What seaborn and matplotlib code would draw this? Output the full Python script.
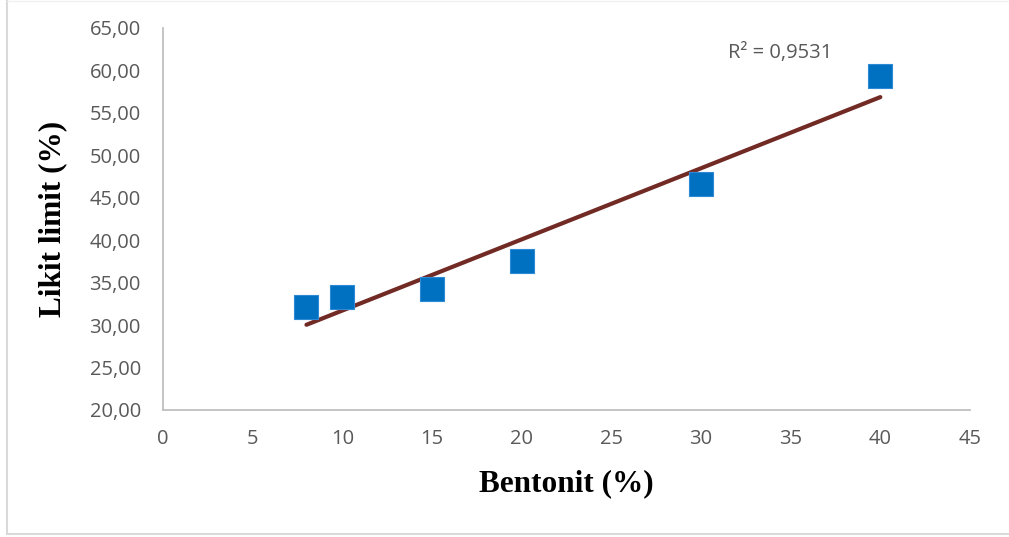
import matplotlib
matplotlib.use("Agg")
import matplotlib.pyplot as plt
import seaborn as sns
import pandas as pd
from matplotlib.lines import Line2D

bentonit = [8, 10, 15, 20, 30, 40]
likit_limit = [32.1, 33.3, 34.2, 37.5, 46.6, 59.4]
x_ticks = [0, 5, 10, 15, 20, 25, 30, 35, 40, 45]
y_ticks = [20, 25, 30, 35, 40, 45, 50, 55, 60, 65]
r2_text = "R² = 0,9531"
x_label = "Bentonit (%)"
y_label = "Likit limit (%)"

df = pd.DataFrame({"x": bentonit, "y": likit_limit})

sns.set_theme(style="white")
plt.rcParams['font.family'] = ['Open Sans', 'DejaVu Sans']

fig = plt.figure(figsize=(10.09, 5.37), dpi=100)
ax = fig.add_axes([163/1009, 1-410/537, (970-163)/1009, (410-28)/537])

sns.regplot(data=df, x="x", y="y", ax=ax, scatter=False, ci=None,
            line_kws=dict(color="#722a25", lw=3, solid_capstyle="round"))
sns.scatterplot(data=df, x="x", y="y", ax=ax, marker="s", s=320,
                color="#0070c0", edgecolor="#2f8ad6", linewidth=0.8, zorder=3)

ax.set_xlim(0, 45)
ax.set_ylim(20, 65)
ax.set_xticks(x_ticks)
ax.set_yticks(y_ticks)
ax.set_xticklabels([str(v) for v in x_ticks])
ax.set_yticklabels([f"{v:.2f}".replace(".", ",") for v in y_ticks])

for s in ["top", "right"]:
    ax.spines[s].set_visible(False)
for s in ["left", "bottom"]:
    ax.spines[s].set_color("#bfbfbf")
    ax.spines[s].set_linewidth(1.3)

ax.tick_params(axis="both", direction="in", length=6, width=1.2, color="#bfbfbf",
               labelsize=14.5, labelcolor="#595959")
ax.tick_params(axis="x", pad=14)
ax.tick_params(axis="y", pad=16)

ax.set_xlabel(x_label, fontsize=22.5, fontweight="bold", family="Liberation Serif",
              color="black", labelpad=14)
ax.set_ylabel(y_label, fontsize=22.5, fontweight="bold", family="Liberation Serif",
              color="black", labelpad=16)

ax.text(31.5, 62.0, r2_text, fontsize=14.5, color="#595959", ha="left", va="center")

# chart border
bc = "#d9d9d9"
fig.add_artist(Line2D([7/1009, 7/1009], [3/537, 1.0], transform=fig.transFigure, color=bc, lw=1.5))
fig.add_artist(Line2D([7/1009, 1.0], [3/537, 3/537], transform=fig.transFigure, color=bc, lw=1.5))
fig.add_artist(Line2D([7/1009, 1.0], [1-1/537, 1-1/537], transform=fig.transFigure, color="#f0f0f0", lw=1))

fig.savefig("out.png", dpi=100)
